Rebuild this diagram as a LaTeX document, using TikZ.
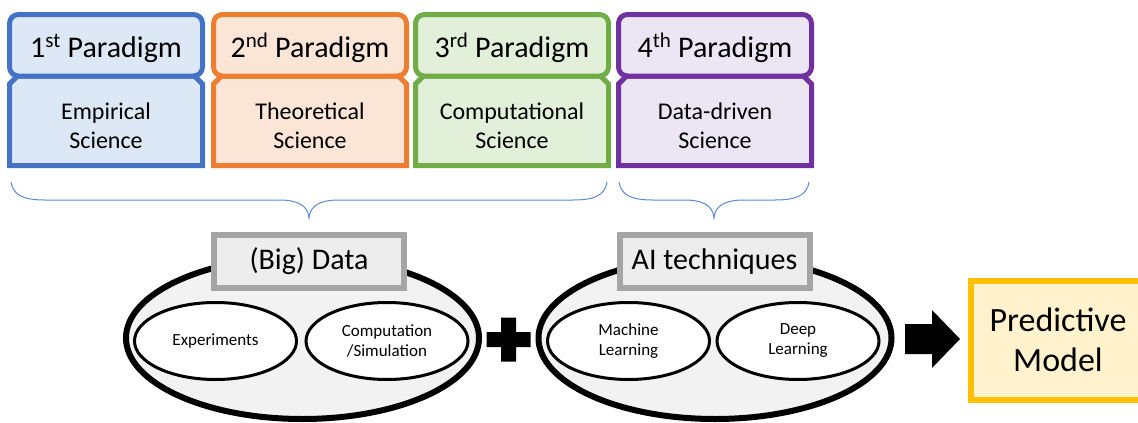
\documentclass[tikz,border=0pt]{standalone}
\usepackage{fontspec}
\setmainfont{Carlito}
\usetikzlibrary{shapes.geometric}

\definecolor{blueline}{HTML}{4472C4}
\definecolor{bluefill}{HTML}{DDE8F6}
\definecolor{orangeline}{HTML}{ED7D31}
\definecolor{orangefill}{HTML}{FBE5D6}
\definecolor{greenline}{HTML}{70AD47}
\definecolor{greenfill}{HTML}{E2F0D9}
\definecolor{purpleline}{HTML}{7030A0}
\definecolor{purplefill}{HTML}{ECE6F4}
\definecolor{labelline}{HTML}{A5A5A5}
\definecolor{labelfill}{HTML}{EDEDED}
\definecolor{groupfill}{HTML}{F2F2F2}
\definecolor{goldline}{HTML}{FFC000}
\definecolor{goldfill}{HTML}{FFF2CC}
\definecolor{braceblue}{HTML}{5B8BD6}

\tikzset{
  frame/.style={line width=5pt, line join=miter},
  headtext/.style={font=\fontsize{30}{36}\selectfont, anchor=base, inner sep=0pt},
  bodytext/.style={font=\fontsize{24}{29}\selectfont, align=center, inner sep=0pt},
  bracepath/.style={draw=braceblue, line width=1pt},
  group/.style={ellipse, draw=black, line width=6pt, fill=groupfill,
    minimum width=353pt, minimum height=162pt, inner sep=0pt},
  member/.style={ellipse, draw=black, line width=3pt, fill=white,
    minimum width=162pt, minimum height=77pt, inner sep=0pt,
    font=\fontsize{17}{20}\selectfont, align=center},
  grouplabel/.style={rectangle, draw=labelline, fill=labelfill, line width=6pt,
    minimum width=190pt, minimum height=53pt, inner sep=0pt,
    font=\fontsize{30}{36}\selectfont},
  result/.style={rectangle, draw=goldline, fill=goldfill, line width=6pt,
    minimum width=174pt, minimum height=119pt, inner sep=0pt,
    font=\fontsize{34}{40}\selectfont, align=center},
}

% one paradigm card: left x, name, line colour, fill colour, title, body
\newcommand\paradigmcard[6]{%
  \draw[frame, draw=#3, fill=#4]
    (#1,84) -- (#1+8,76) -- (#1+185,76) -- (#1+193,84)
    -- (#1+193,165.5) -- (#1,165.5) -- cycle;
  \draw[frame, draw=#3, fill=#4, rounded corners=9pt]
    (#1,14.5) rectangle (#1+193,76);
  \node[headtext] (#2title) at (#1+96.5,57) {#5};
  \node[bodytext] (#2body) at (#1+96.5,126) {#6};
}

% curly brace: left end x, right end x, tip x
\newcommand\curlybrace[3]{%
  \draw[bracepath]
    (#1,182) .. controls (#1+2,196) and (#1+14,200) .. (#1+34,200)
    -- (#3-30,200) .. controls (#3-12,200) and (#3-1,205) .. (#3,218)
    .. controls (#3+1,205) and (#3+12,200) .. (#3+30,200)
    -- (#2-34,200) .. controls (#2-14,200) and (#2-2,196) .. (#2,182);
}

\begin{document}
\begin{tikzpicture}[x=1pt, y=-1pt]
  \clip (0,0) rectangle (1138,423);
  \fill[white] (0,0) rectangle (1138,423);

  % the four paradigms
  \paradigmcard{9.5}{first}{blueline}{bluefill}{1\textsuperscript{st} Paradigm}{Empirical\\Science}
  \paradigmcard{213.5}{second}{orangeline}{orangefill}{2\textsuperscript{nd} Paradigm}{Theoretical\\Science}
  \paradigmcard{415.5}{third}{greenline}{greenfill}{3\textsuperscript{rd} Paradigm}{Computational\\Science}
  \paradigmcard{618.5}{fourth}{purpleline}{purplefill}{4\textsuperscript{th} Paradigm}{Data-driven\\Science}

  % braces grouping the paradigms
  \curlybrace{11}{607}{309}
  \curlybrace{619}{809}{714}

  % data group
  \node[group] (data) at (302.5,338) {};
  \node[grouplabel] (datalabel) at (309,261.5) {(Big) Data};
  \node[member] (experiments) at (215.5,341) {Experiments};
  \node[member] (simulation) at (387,341) {Computation\\/Simulation};

  % AI group
  \node[group] (ai) at (715,338) {};
  \node[grouplabel] (ailabel) at (714.5,261.5) {AI techniques};
  \node[member] (ml) at (628.5,341) {Machine\\Learning};
  \node[member] (dl) at (798,341) {Deep\\Learning};

  % plus sign between the groups
  \coordinate (plus) at (508.5,339.5);
  \fill[black] (501,317.5) -- (516,317.5) -- (516,332) -- (530.5,332) -- (530.5,347)
    -- (516,347) -- (516,361.5) -- (501,361.5) -- (501,347) -- (486.5,347)
    -- (486.5,332) -- (501,332) -- cycle;

  % block arrow towards the model
  \coordinate (arrowtip) at (960,339);
  \fill[black] (905,324) -- (932,324) -- (932,310) -- (arrowtip) -- (932,368)
    -- (932,354) -- (905,354) -- cycle;

  % result
  \node[result] (model) at (1058,340) {Predictive\\Model};
\end{tikzpicture}
\end{document}
